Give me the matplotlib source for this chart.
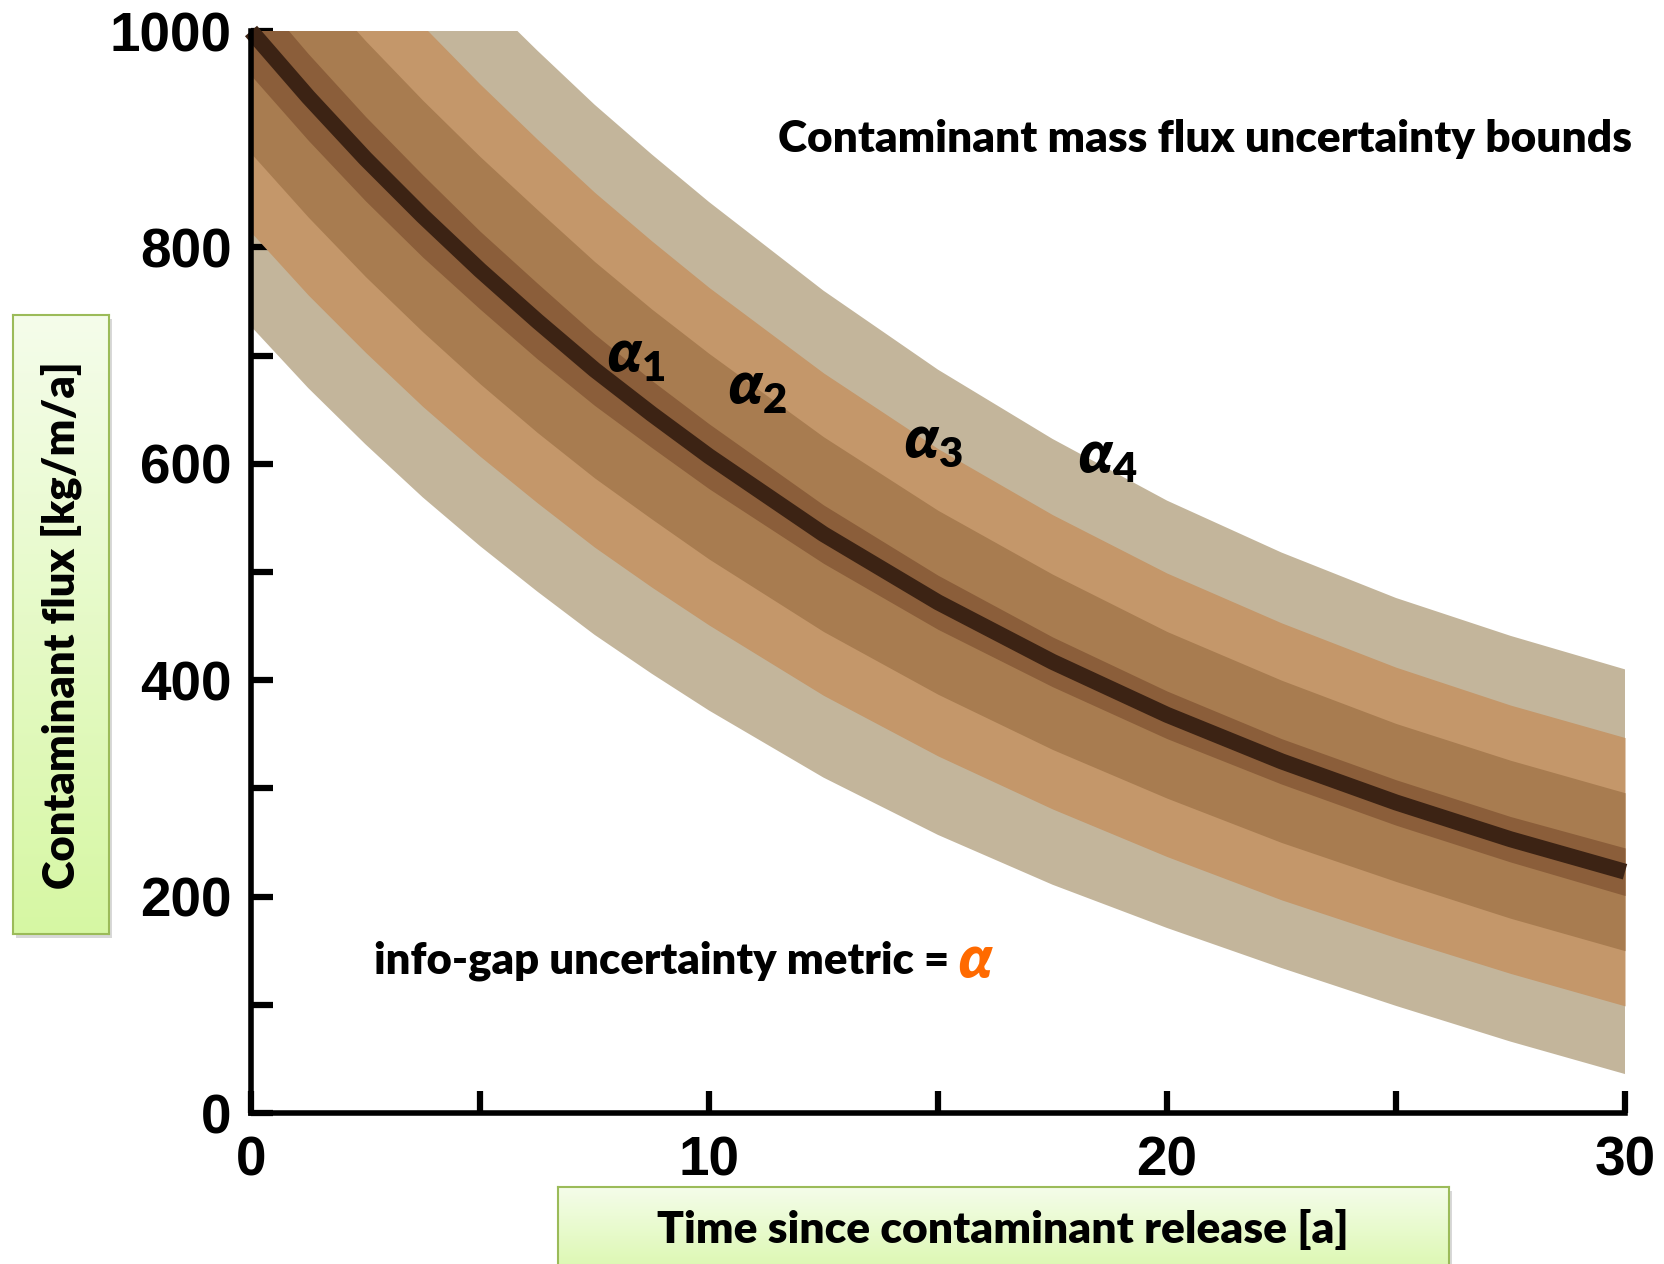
import numpy as np
import matplotlib.pyplot as plt

# ---- data ----
t = [0, 1.25, 2.5, 3.75, 5, 6.25, 7.5, 8.75, 10, 12.5, 15, 17.5, 20, 22.5, 25, 27.5, 30]
flux = [1000, 939, 882, 829, 779, 732, 687, 646, 607, 535, 472, 417, 368, 325, 287, 253, 223]

# band edges (upper / lower) for alpha_1 .. alpha_4
a1_up = [1041, 979, 921, 867, 815, 767, 720, 677, 637, 562, 497, 440, 390, 346, 308, 274, 245]
a1_lo = [959, 899, 843, 791, 743, 697, 654, 615, 577, 508, 447, 394, 346, 304, 266, 232, 201]
a2_up = [1113, 1050, 991, 936, 884, 835, 787, 743, 702, 625, 557, 498, 445, 400, 360, 326, 296]
a2_lo = [887, 828, 773, 722, 674, 629, 587, 549, 512, 445, 387, 336, 291, 250, 214, 180, 150]
a3_up = [1186, 1122, 1061, 1005, 951, 900, 851, 806, 763, 684, 614, 553, 499, 453, 412, 377, 347]
a3_lo = [814, 756, 703, 653, 607, 564, 523, 486, 451, 386, 330, 281, 237, 197, 162, 129, 99]
a4_up = [1273, 1208, 1146, 1089, 1034, 982, 932, 886, 842, 760, 687, 623, 566, 518, 476, 441, 410]
a4_lo = [727, 670, 618, 569, 524, 482, 442, 406, 372, 310, 257, 211, 171, 134, 99, 66, 36]

alpha_names = ['1', '2', '3', '4']
alpha_pos = [(8.4, 700), (11.05, 670), (14.9, 620), (18.7, 606)]

xticks = [0, 10, 20, 30]
yticks = [0, 200, 400, 600, 800, 1000]

band_colors = ['#8B5E3A', '#A87C50', '#C4976A', '#C3B59B']
curve_color = '#3C2314'

plt.rcParams['mathtext.fontset'] = 'custom'
plt.rcParams['mathtext.it'] = 'Lato:italic:heavy'
plt.rcParams['mathtext.rm'] = 'Lato:heavy'
plt.rcParams['mathtext.default'] = 'it'

W, H = 1664, 1264
fig = plt.figure(figsize=(W / 100, H / 100), dpi=100)
ax = fig.add_axes([251 / W, 1 - 1113 / H, 1374 / W, 1082 / H])

bands = [(a1_lo, a1_up), (a2_lo, a2_up), (a3_lo, a3_up), (a4_lo, a4_up)]
for i in range(3, -1, -1):
    lo, up = bands[i]
    ax.fill_between(t, lo, up, color=band_colors[i], lw=0, zorder=1 + (3 - i))

ax.plot(t, flux, color=curve_color, lw=11.5, solid_capstyle='butt',
        solid_joinstyle='round', zorder=10, clip_on=False)

ax.set_xlim(0, 30)
ax.set_ylim(0, 1000)
ax.set_xticks(xticks)
ax.set_xticks([5, 15, 25], minor=True)
ax.set_yticks(yticks)
ax.set_yticks([100, 300, 500, 700, 900], minor=True)
for s in ['top', 'right']:
    ax.spines[s].set_visible(False)
for s in ['left', 'bottom']:
    ax.spines[s].set_linewidth(4)
    ax.spines[s].set_zorder(12)
ax.tick_params(which='both', direction='in', length=16, width=4.5, color='black')
ax.tick_params(axis='y', pad=14)
ax.tick_params(axis='x', pad=16)
for lab in ax.get_xticklabels() + ax.get_yticklabels():
    lab.set_fontfamily('Liberation Sans')
    lab.set_fontweight('bold')
    lab.set_fontsize(39.5)

fam = ['Lato', 'DejaVu Sans']
wt = 'heavy'

# alpha labels
for name, (xa, ya) in zip(alpha_names, alpha_pos):
    ax.text(xa, ya, r'$\alpha_{\mathit{%s}}$' % name, fontsize=43,
            ha='center', va='center', zorder=20)

fig.canvas.draw()
r = fig.canvas.get_renderer()


def fit(txt, width_px, vertical=False):
    bb = txt.get_window_extent(r)
    cur = bb.height if vertical else bb.width
    txt.set_fontsize(txt.get_fontsize() * width_px / cur)


title = fig.text(778 / W, 1 - 139 / H, 'Contaminant mass flux uncertainty bounds',
                 fontsize=30, fontweight=wt, family=fam, ha='left', va='center')
fit(title, 851)

metric = fig.text(374 / W, 1 - 961 / H, 'info-gap uncertainty metric =',
                  fontsize=30, fontweight=wt, family=fam, ha='left', va='center')
fit(metric, 574)
fig.canvas.draw()
bb = metric.get_window_extent(r)
fig.text((bb.x1 + 9) / W, 1 - 961 / H, 'α', fontsize=metric.get_fontsize() * 1.35,
         fontweight=wt, fontstyle='italic', family=fam, color='#FF6A00',
         ha='left', va='center')


def grad_box(x0, y0, x1, y1):
    # shadow
    sh = fig.add_axes([(x0 + 3) / W, 1 - (y1 + 4) / H, (x1 - x0) / W, (y1 - y0) / H])
    sh.set_facecolor('#BFBFBF')
    sh.patch.set_alpha(0.6)
    sh.set_xticks([])
    sh.set_yticks([])
    for s in sh.spines.values():
        s.set_visible(False)
    bx = fig.add_axes([x0 / W, 1 - y1 / H, (x1 - x0) / W, (y1 - y0) / H])
    c_top = np.array([0.96, 0.99, 0.92])
    c_bot = np.array([0.84, 0.97, 0.64])
    g = np.linspace(0, 1, 256)[:, None, None]
    img = c_top * (1 - g) + c_bot * g
    img = np.repeat(img, 2, axis=1)
    bx.imshow(img, extent=[0, 1, 0, 1], aspect='auto', origin='upper')
    bx.set_xticks([])
    bx.set_yticks([])
    for s in bx.spines.values():
        s.set_color('#9BBB59')
        s.set_linewidth(1.5)
    return bx


grad_box(13, 315, 109, 934)
ylab = fig.text(61 / W, 1 - 625 / H, 'Contaminant flux [kg/m/a]', rotation=90,
                fontsize=30, fontweight=wt, family=fam, ha='center', va='center')
fit(ylab, 528, vertical=True)

grad_box(558, 1187, 1449, 1290)
xlab = fig.text(1003 / W, 1 - 1229 / H, 'Time since contaminant release [a]',
                fontsize=30, fontweight=wt, family=fam, ha='center', va='center')
fit(xlab, 690)

fig.savefig('out.png', dpi=100)
